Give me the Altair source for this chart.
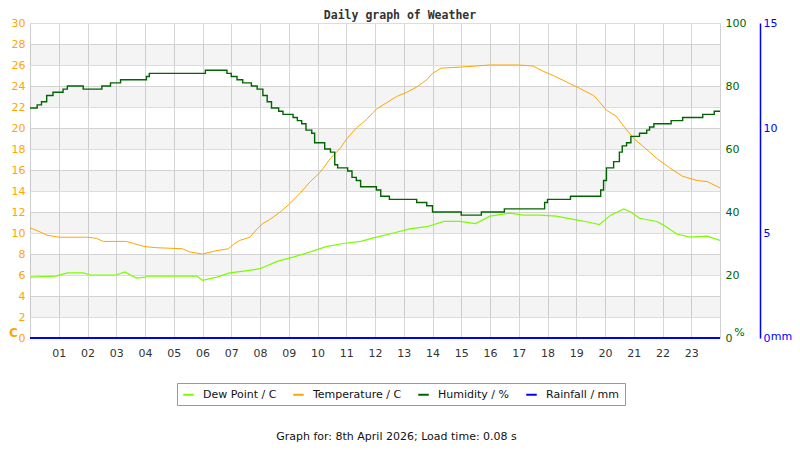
import altair as alt
import pandas as pd


# values, hour of day -> reading
temp_hours = [0, 0.35, 0.58, 1.0, 2.0, 2.3, 2.55, 3.35, 3.6, 4.0, 4.4, 5.3, 5.55, 6.0, 6.45,
              6.9, 7.07, 7.3, 7.65, 7.9, 8.1, 8.35, 8.7, 9.0, 9.4, 9.75, 10.1, 10.45, 10.8,
              11.0, 11.35, 11.7, 12.05, 12.4, 12.75, 13.1, 13.45, 13.8, 14.0, 14.3, 14.95,
              15.5, 16.0, 17.0, 17.5, 17.85, 18.2, 18.65, 19.1, 19.6, 19.8, 20.05, 20.4,
              20.7, 21.0, 21.35, 21.8, 22.25, 22.7, 23.2, 23.55, 24.0]
temp_values = [10.5, 10.1, 9.8, 9.6, 9.6, 9.5, 9.2, 9.2, 9.0, 8.7, 8.6, 8.5, 8.2, 8.0, 8.3,
               8.5, 8.9, 9.3, 9.6, 10.4, 10.9, 11.3, 12.0, 12.7, 13.8, 14.9, 15.8, 17.1, 18.1,
               18.9, 20.0, 20.8, 21.8, 22.4, 23.0, 23.4, 23.9, 24.6, 25.2, 25.7, 25.8,
               25.9, 26.0, 26.0, 25.9, 25.4, 25.0, 24.4, 23.8, 23.1, 22.5, 21.7, 21.1,
               20.0, 19.0, 18.2, 17.1, 16.2, 15.4, 15.0, 14.9, 14.3]

dew_hours = [0, 0.9, 1.3, 1.85, 2.1, 3.0, 3.3, 3.7, 4.0, 4.05, 5.8, 6.0, 6.5, 6.95, 7.5,
             8.0, 8.6, 9.15, 9.75, 10.3, 10.9, 11.5, 12.05, 12.65, 13.2, 13.8, 14.4, 14.95,
             15.5, 16.0, 16.7, 17.15, 17.75, 18.3, 18.9, 19.5, 19.8, 20.2, 20.65, 20.9,
             21.2, 21.8, 22.0, 22.5, 22.95, 23.55, 24.0]
dew_values = [5.8, 5.9, 6.2, 6.2, 6.0, 6.0, 6.3, 5.7, 5.8, 5.9, 5.9, 5.5, 5.8, 6.2, 6.4,
              6.6, 7.3, 7.7, 8.2, 8.7, 9.0, 9.2, 9.6, 10.0, 10.4, 10.6, 11.1, 11.1,
              10.9, 11.6, 11.9, 11.7, 11.7, 11.6, 11.3, 11.0, 10.8, 11.7, 12.3, 12.0,
              11.4, 11.1, 10.8, 9.9, 9.6, 9.7, 9.3]

hum_hours = [0, 0.25, 0.4, 0.58, 0.8, 1.15, 1.3, 1.85, 2.5, 2.8, 3.15, 4.05, 4.15, 6.1,
             6.85, 7.0, 7.2, 7.4, 7.7, 7.9, 8.1, 8.25, 8.4, 8.65, 8.8, 9.15, 9.3, 9.45,
             9.6, 9.8, 9.9, 10.25, 10.45, 10.6, 10.7, 11.05, 11.2, 11.35, 11.5, 12.05,
             12.2, 12.5, 13.45, 13.8, 14.0, 15.0, 15.7, 16.5, 17.9, 18.0, 18.8, 19.85,
             19.95, 20.05, 20.3, 20.5, 20.6, 20.75, 20.9, 21.2, 21.45, 21.55, 21.7, 22.3,
             22.7, 23.4, 23.8, 24.0]
hum_values = [73, 74, 75, 77, 78, 79, 80, 79, 80, 81, 82, 83, 84, 85,
              84, 83, 82, 81, 80, 79, 77, 75, 73, 72, 71, 70, 69, 68,
              66, 65, 62, 60, 59, 55, 54, 53, 51, 50, 48, 47,
              45, 44, 43, 42, 40, 39, 40, 41, 43, 44, 45, 47,
              50, 54, 56, 59, 61, 62, 64, 65, 66, 67, 68, 69,
              70, 71, 72, 72]

rain_hours = [0, 24]
rain_values = [0, 0]

# grey stripes behind the plot, in degrees C
band_lows = [2, 6, 10, 14, 18, 22, 26]
band_highs = [4, 8, 12, 16, 20, 24, 28]

hour_ticks = list(range(1, 24))
temp_ticks = list(range(0, 31, 2))
hum_ticks = [0, 20, 40, 60, 80, 100]
rain_ticks = [0, 5, 10, 15]

SERIES = ['Dew Point / C', 'Temperature / C', 'Humidity / %', 'Rainfall / mm']
COLOURS = ['#7cfc00', '#ffa500', '#006400', '#0000ff']
FONT = 'DejaVu Sans'

xscale = alt.Scale(domain=[0, 24], nice=False)
cscale = alt.Scale(domain=[0, 30], nice=False)
colour_scale = alt.Scale(domain=SERIES, range=COLOURS)
colour = alt.Color('series:N', scale=colour_scale, title=None)


x_axis = alt.Axis(
    values=hour_ticks,
    labelExpr="datum.value < 10 ? '0' + datum.value : '' + datum.value",
    grid=True, gridColor='#d6d6d6', domain=False, ticks=False,
    labelPadding=9, labelFont=FONT, labelFontSize=11, labelColor='#333',
    title='Graph for: 8th April 2026; Load time: 0.08 s',
    titleFont=FONT, titleFontSize=11, titleFontWeight='normal', titleColor='#111',
    titleX=366, titleY=98, titleBaseline='middle',
)

c_axis = alt.Axis(
    orient='left', values=temp_ticks, grid=True, gridColor='#dcdcdc',
    domain=False, ticks=False, labelPadding=5, labelFont=FONT, labelFontSize=11,
    labelColor='#ffa500', title='C', titleColor='#ffa500', titleFont=FONT,
    titleFontSize=12, titleFontWeight='bold', titleAngle=0, titleX=-17, titleY=309,
    titleAlign='center', titleBaseline='middle',
)

hum_axis = alt.Axis(
    orient='right', values=hum_ticks, grid=False, domain=False, ticks=False,
    labelPadding=5, labelFont=FONT, labelFontSize=11, labelColor='#006400',
    title='%', titleColor='#006400', titleFont=FONT, titleFontSize=11,
    titleFontWeight='normal', titleAngle=0, titleX=19, titleY=309,
    titleAlign='center', titleBaseline='middle',
)

rain_axis = alt.Axis(
    orient='right', offset=40, values=rain_ticks, grid=False,
    domain=True, domainColor='#0000ff', domainWidth=1.5, ticks=False,
    labelPadding=3, labelFont=FONT, labelFontSize=11, labelColor='#0000ff',
    title='mm', titleColor='#0000ff', titleFont=FONT, titleFontSize=11,
    titleFontWeight='normal', titleAngle=0, titleX=21, titleY=313,
    titleAlign='center', titleBaseline='middle',
)

bands_df = pd.DataFrame({'hour': 0, 'hour_end': 24, 'low': band_lows, 'high': band_highs})
temp_df = pd.DataFrame({'hour': temp_hours, 'value': temp_values, 'series': SERIES[1]})
dew_df = pd.DataFrame({'hour': dew_hours, 'value': dew_values, 'series': SERIES[0]})
hum_df = pd.DataFrame({'hour': hum_hours, 'value': hum_values, 'series': SERIES[2]})
rain_df = pd.DataFrame({'hour': rain_hours, 'value': rain_values, 'series': SERIES[3]})

x_enc = alt.X('hour:Q', scale=xscale, axis=x_axis)

bands = alt.Chart(bands_df).mark_rect(color='#000', opacity=0.045).encode(
    x=x_enc,
    x2='hour_end',
    y=alt.Y('low:Q', scale=cscale, axis=c_axis),
    y2='high',
)

dew = alt.Chart(dew_df).mark_line(strokeWidth=1.2).encode(
    x=x_enc,
    y=alt.Y('value:Q', scale=cscale, axis=c_axis),
    color=colour,
)

temp = alt.Chart(temp_df).mark_line(strokeWidth=1).encode(
    x=x_enc,
    y=alt.Y('value:Q', scale=cscale, axis=c_axis),
    color=colour,
)

hum = alt.Chart(hum_df).mark_line(strokeWidth=1.4, interpolate='step-after').encode(
    x=x_enc,
    y=alt.Y('value:Q', scale=alt.Scale(domain=[0, 100], nice=False), axis=hum_axis),
    color=colour,
)

rain = alt.Chart(rain_df).mark_line(strokeWidth=2).encode(
    x=x_enc,
    y=alt.Y('value:Q', scale=alt.Scale(domain=[0, 15], nice=False), axis=rain_axis),
    color=colour,
)

celsius = alt.layer(bands, dew, temp)

chart = alt.layer(celsius, hum, rain).resolve_scale(
    y='independent', color='shared'
).properties(
    width=690,
    height=315,
    autosize=alt.AutoSizeParams(type='none'),
    padding={'left': 22, 'top': 15, 'right': 72, 'bottom': 104},
    title=alt.TitleParams(
        'Daily graph of Weather', font='DejaVu Sans Mono', fontSize=11.5,
        fontWeight='bold', color='#333', anchor='middle', dx=25, dy=8, offset=4,
    ),
).configure_view(
    stroke='#d0d0d0'
).configure_legend(
    orient='none', legendX=147, legendY=360, direction='horizontal',
    symbolType='stroke', symbolStrokeWidth=2, symbolSize=110,
    labelFont=FONT, labelFontSize=11, labelColor='#111', labelOffset=8,
    columnPadding=12, padding=5, strokeColor='#999', fillColor='white',
)

chart.save('out.html', embed_options={'renderer': 'svg', 'actions': False})
